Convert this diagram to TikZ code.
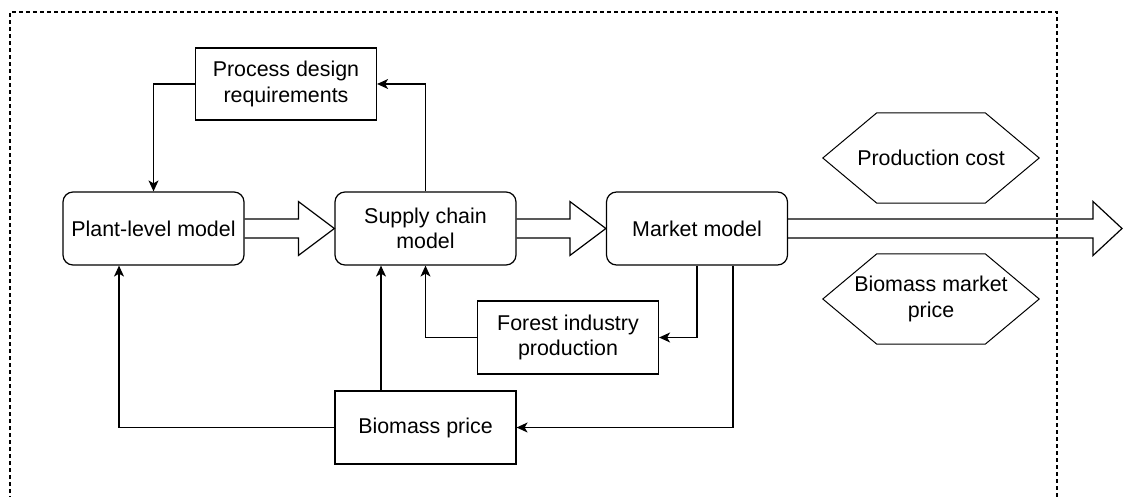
\documentclass[tikz,border=0pt]{standalone}
\usepackage{fontspec}
\setmainfont{Liberation Sans}
\usetikzlibrary{arrows.meta,calc}
\tikzset{
  base/.style={draw, line width=1.2pt, align=center, inner sep=2pt,
    font=\fontsize{21.4}{25.2}\selectfont, minimum height=73pt},
  model/.style={base, rounded corners=10pt, minimum width=181pt},
  databox/.style={base, minimum width=181pt},
  hexnode/.style={align=center, inner sep=0pt, font=\fontsize{21.4}{25.2}\selectfont,
    minimum width=216pt, minimum height=90pt},
  hexline/.style={line width=1pt},
  conn/.style={line width=1.2pt, -{Stealth[length=11pt,width=10pt,inset=3pt]}},
  bigarrow/.style={line width=1.2pt, line join=miter},
  frame/.style={line width=1.2pt, dash pattern=on 4pt off 3pt}
}
\begin{document}
\begin{tikzpicture}[x=1pt,y=-1pt]
\useasboundingbox (0,0) rectangle (1123,497);
% dashed frame
\draw[frame] (10,500) -- (10,12) -- (1057,12) -- (1057,500);
% nodes
\node[model] (plant) at (153.5,228.5) {Plant-level model};
\node[model] (supply) at (425.5,228.5) {Supply chain\\model};
\node[model] (market) at (697,228.5) {Market model};
\node[databox, minimum height=72pt] (process) at (286,84) {Process design\\requirements};
\node[databox] (forest) at (568,337.5) {Forest industry\\production};
\node[databox] (biomass) at (425.5,427.5) {Biomass price};
\node[hexnode] (cost) at (931,158) {Production cost};
\node[hexnode] (bmp) at (931,299) {Biomass market\\price};
\coordinate (out) at (1122,228.5);
% hexagons
\draw[hexline] (cost.west) -- ($(cost.north west)+(54,0)$) -- ($(cost.north east)+(-54,0)$) -- (cost.east) -- ($(cost.south east)+(-54,0)$) -- ($(cost.south west)+(54,0)$) -- cycle;
\draw[hexline] (bmp.west) -- ($(bmp.north west)+(54,0)$) -- ($(bmp.north east)+(-54,0)$) -- (bmp.east) -- ($(bmp.south east)+(-54,0)$) -- ($(bmp.south west)+(54,0)$) -- cycle;
% big hollow arrows
\draw[bigarrow] ($(plant.east)+(0,-9.5)$) -- ($(supply.west)+(-36,-9.5)$) -- ($(supply.west)+(-36,-27)$) -- (supply.west) -- ($(supply.west)+(-36,27)$) -- ($(supply.west)+(-36,9.5)$) -- ($(plant.east)+(0,9.5)$);
\draw[bigarrow] ($(supply.east)+(0,-9.5)$) -- ($(market.west)+(-36,-9.5)$) -- ($(market.west)+(-36,-27)$) -- (market.west) -- ($(market.west)+(-36,27)$) -- ($(market.west)+(-36,9.5)$) -- ($(supply.east)+(0,9.5)$);
\draw[bigarrow] ($(market.east)+(0,-9.5)$) -- ($(out)+(-29,-9.5)$) -- ($(out)+(-29,-27)$) -- (out) -- ($(out)+(-29,27)$) -- ($(out)+(-29,9.5)$) -- ($(market.east)+(0,9.5)$);
% connectors
\draw[conn] (process.west) -| (plant.north);
\draw[conn] (supply.north) |- (process.east);
\draw[conn] (biomass.west) -| ([xshift=-34.5pt]plant.south);
\draw[conn] ([xshift=-44.5pt]biomass.north) -- ([xshift=-44.5pt]supply.south);
\draw[conn] (forest.west) -| (supply.south);
\draw[conn] (market.south) |- (forest.east);
\draw[conn] ([xshift=36pt]market.south) |- (biomass.east);
\end{tikzpicture}
\end{document}
